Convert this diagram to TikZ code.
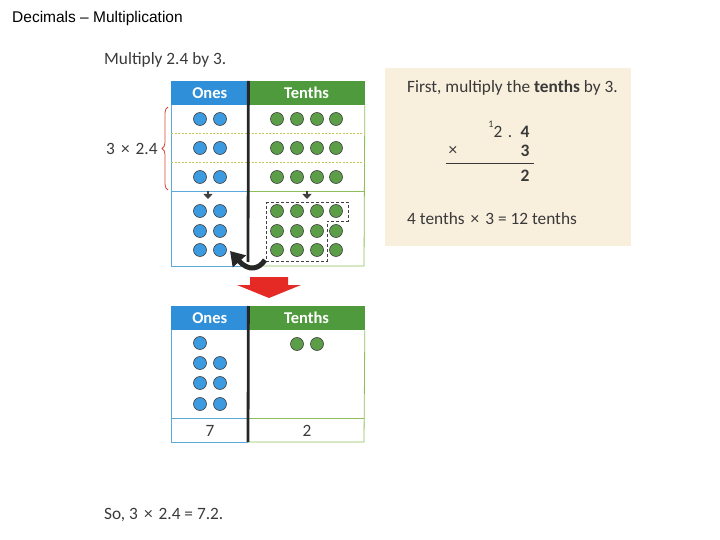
\documentclass[tikz,border=0pt]{standalone}
\usepackage{fontspec}
\setmainfont{Carlito}
\newfontfamily\arialfont{Liberation Sans}
\usetikzlibrary{arrows.meta,decorations.pathreplacing,positioning}

\definecolor{onesblue}{HTML}{2F8FD8}
\definecolor{dotblue}{HTML}{3C9BE0}
\definecolor{tenthsgreen}{HTML}{4F9A3C}
\definecolor{dotgreen}{HTML}{5C9E48}
\definecolor{gridblue}{HTML}{5AA8DC}
\definecolor{gridgreen}{HTML}{8DBE5A}
\definecolor{rowdash}{HTML}{C4C64E}
\definecolor{panelcream}{HTML}{F8EFDD}
\definecolor{bracered}{HTML}{D9473C}
\definecolor{arrowred}{HTML}{E52A25}
\definecolor{textgrey}{HTML}{3A3A3A}

\newcommand{\bytimes}{\hspace{0.35em}×\hspace{0.35em}}

\tikzset{
  onedot/.style={circle, draw=black!75, line width=0.6pt, fill=dotblue, minimum size=13pt, inner sep=0pt},
  tenthdot/.style={circle, draw=black!75, line width=0.6pt, fill=dotgreen, minimum size=13pt, inner sep=0pt},
  onehead/.style={rectangle, fill=onesblue, minimum width=77pt, minimum height=24pt, inner sep=0pt, text=white, font=\bfseries\fontsize{16.5}{17}\selectfont},
  tenthhead/.style={rectangle, fill=tenthsgreen, minimum width=116pt, minimum height=24pt, inner sep=0pt, text=white, font=\bfseries\fontsize{16.5}{17}\selectfont},
  booktext/.style={text=textgrey, inner sep=0pt, font=\fontsize{17.3}{18}\selectfont},
  bolddigit/.style={text=textgrey, inner sep=0pt, anchor=base, font=\bfseries\fontsize{17.5}{18}\selectfont},
  plaindigit/.style={booktext, anchor=base},
  divider/.style={line width=2.8pt, draw=black!85},
  rowsep/.style={dashed, dash pattern=on 2pt off 1.5pt, draw=rowdash, line width=0.8pt},
  pointer/.style={line width=1.6pt, draw=black!75, -{Triangle[length=5pt,width=9pt]}}
}

\begin{document}
\begin{tikzpicture}[x=1pt,y=-1pt]
\useasboundingbox (0,0) rectangle (720,540);
% Title and question
\node[anchor=west, inner sep=0pt, font=\arialfont\fontsize{15.5}{16}\selectfont] (title) at (12,18) {Decimals – Multiplication};
\node[booktext, anchor=west] (question) at (104,60) {Multiply 2.4 by 3.};
% Top place value table
\node[onehead, anchor=north west] (ones1) at (171,81) {Ones};
\node[tenthhead, right=0pt of ones1] (tenths1) {Tenths};
\draw[gridblue, line width=0.8pt] (ones1.south west) -- (171,266) -- (248,266);
\draw[gridgreen, line width=0.8pt] (tenths1.south east) -- (364,266) -- (248,266);
\draw[gridblue, line width=0.8pt] (171,191) -- (248,191);
\draw[gridgreen, line width=0.8pt] (248,191) -- (364,191);
\foreach \y in {133,162}
  \draw[rowsep] (171,\y) -- (364,\y);
\draw[divider] (ones1.north east) -- (248,262);
% Three rows of 2.4
\foreach \r/\y in {1/119,2/148,3/177} {
  \foreach \c/\x in {1/200,2/220}
    \node[onedot] (o\r\c) at (\x,\y) {};
  \foreach \c/\x in {1/277,2/297,3/317,4/336}
    \node[tenthdot] (t\r\c) at (\x,\y) {};
}
% Brace for 3 x 2.4
\coordinate (braceTop) at (168,107);
\coordinate (braceBot) at (168,190);
\draw[bracered, line width=0.8pt, decorate, decoration={brace, amplitude=6pt}] (braceBot) -- (braceTop)
  node[midway, left=10pt, booktext] (times) {3\bytimes 2.4};
% Collected dots
\coordinate (onesFrom) at (208,191);
\coordinate (onesTo) at (208,199);
\coordinate (tenthsFrom) at (307,191);
\coordinate (tenthsTo) at (307,199);
\draw[pointer] (onesFrom) -- (onesTo);
\draw[pointer] (tenthsFrom) -- (tenthsTo);
\foreach \r/\y in {4/211,5/231,6/250} {
  \foreach \c/\x in {1/200,2/220}
    \node[onedot] (o\r\c) at (\x,\y) {};
  \foreach \c/\x in {1/277,2/297,3/317,4/336}
    \node[tenthdot] (t\r\c) at (\x,\y) {};
}
% Ten tenths make one
\draw[black!75, line width=0.9pt, dash pattern=on 3pt off 2pt] (266,202) -- (348,202) -- (348,221) -- (327,221) -- (327,261) -- (266,261) -- cycle;
\coordinate (swapFrom) at (265,260);
\coordinate (swapTo) at (230,251);
\draw[line width=5pt, black!85, -{Triangle[length=14pt,width=17pt]}] (swapFrom) .. controls (259,269) and (249,272) .. (swapTo);
% Red arrow
\fill[arrowred] (250,277) -- (288,277) -- (288,285) -- (301,285) -- (269,298) -- (237,285) -- (250,285) -- cycle;
% Bottom place value table
\node[onehead, anchor=north west] (ones2) at (171,306) {Ones};
\node[tenthhead, right=0pt of ones2] (tenths2) {Tenths};
\draw[gridblue, line width=0.8pt] (ones2.south west) -- (171,442) -- (248,442);
\draw[gridgreen, line width=0.8pt] (tenths2.south east) -- (364,442) -- (248,442);
\draw[gridblue, line width=0.8pt] (171,418) -- (248,418);
\draw[gridgreen, line width=0.8pt] (248,418) -- (364,418);
\draw[divider] (ones2.north east) -- (248,442);
\node[onedot] (a1) at (200,343) {};
\foreach \r/\y in {2/363,3/383,4/404} {
  \node[onedot] (a\r) at (200,\y) {};
  \node[onedot] (b\r) at (220,\y) {};
}
\node[tenthdot] (c1) at (297,344) {};
\node[tenthdot] (c2) at (317,344) {};
\node[booktext] (seven) at (210,431) {7};
\node[booktext] (two) at (307,431) {2};
% Working panel
\fill[panelcream] (385,68) rectangle (631,246);
\node[booktext, anchor=west] (first) at (407,88) {First, multiply the \textbf{tenths} by 3.};
\node[plaindigit, font=\fontsize{10}{10}\selectfont] (carry) at (491,128) {1};
\node[plaindigit] (unitA) at (498,138) {2};
\node[plaindigit] (point) at (510,138) {.};
\node[bolddigit] (tenthA) at (525,138) {4};
\node[booktext] (timesB) at (453,151) {×};
\node[bolddigit] (tenthB) at (525,157) {3};
\coordinate (ruleL) at (446,163);
\coordinate (ruleR) at (534,163);
\draw[textgrey, line width=0.9pt] (ruleL) -- (ruleR);
\node[bolddigit] (tenthC) at (525,182) {2};
\node[booktext, anchor=west] (fact) at (407,219) {4 tenths\bytimes 3 = 12 tenths};
% Answer
\node[booktext, anchor=west] (answer) at (104,515) {So, 3\bytimes 2.4 = 7.2.};
\end{tikzpicture}
\end{document}
